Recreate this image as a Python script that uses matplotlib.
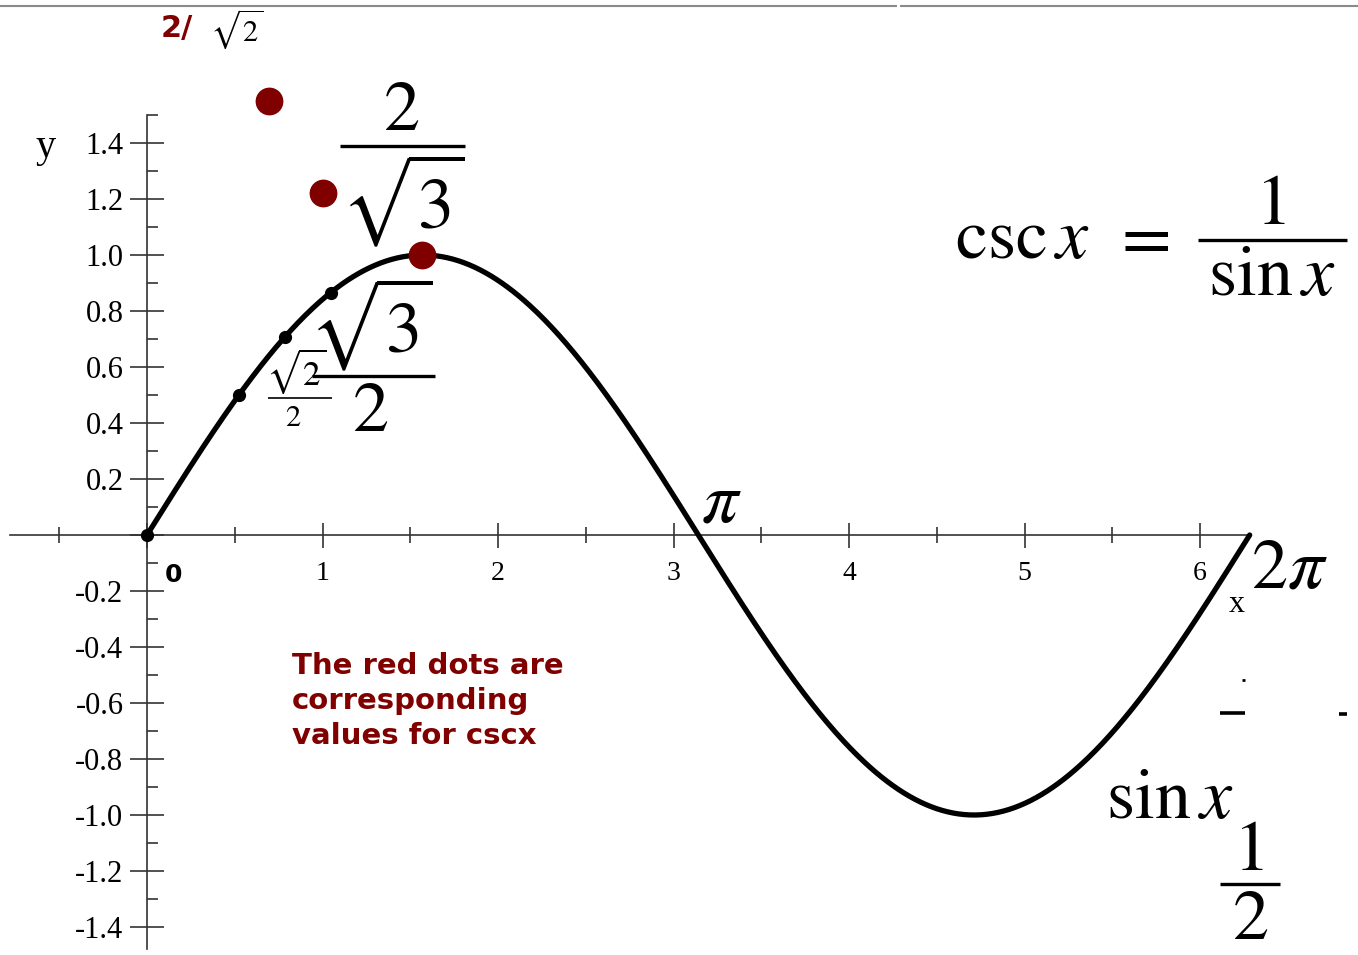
import numpy as np
import matplotlib
matplotlib.use('Agg')
import matplotlib.pyplot as plt
from matplotlib.lines import Line2D

plt.rcParams['font.family'] = ['Liberation Serif', 'DejaVu Serif']
plt.rcParams['mathtext.fontset'] = 'stix'

W, H = 1358, 955
DARK_RED = '#800000'

# ── data ──────────────────────────────────────────────────────────────────────
x_start, x_end = 0.0, 2 * np.pi
key_x   = [0.0, np.pi / 6, np.pi / 4, np.pi / 3]      # black dots on sin x
key_sin = [0.0, 0.5, 0.707, 0.866]
csc_x   = [0.695, 1.003, 1.567]                       # red dots as drawn
csc_y   = [1.55, 1.22, 1.0]

x_major = [0, 1, 2, 3, 4, 5, 6]
x_labels = ['', '1', '2', '3', '4', '5', '6']
x_minor = [-0.5, 0.5, 1.5, 2.5, 3.5, 4.5, 5.5]
y_major = [-1.4, -1.2, -1.0, -0.8, -0.6, -0.4, -0.2, 0.0, 0.2, 0.4, 0.6, 0.8, 1.0, 1.2, 1.4]
y_labels = ['-1.4', '-1.2', '-1.0', '-0.8', '-0.6', '-0.4', '-0.2', '',
            '0.2', '0.4', '0.6', '0.8', '1.0', '1.2', '1.4']
y_minor = [-1.3, -1.1, -0.9, -0.7, -0.5, -0.3, -0.1, 0.1, 0.3, 0.5, 0.7, 0.9, 1.1, 1.3, 1.5]

# ── figure ────────────────────────────────────────────────────────────────────
fig = plt.figure(figsize=(W / 100, H / 100), dpi=100)
fig.patch.set_facecolor('white')
ax = fig.add_axes([0, 0, 1, 1])
ax.set_facecolor('none')

XS, YS = 175.5, 280.0   # pixels per unit
ax.set_xlim(-147 / XS, (W - 147) / XS)
ax.set_ylim((535 - H) / YS, 535 / YS)

for s in ['top', 'right']:
    ax.spines[s].set_visible(False)
for s in ['left', 'bottom']:
    ax.spines[s].set_position(('data', 0))
    ax.spines[s].set_color('#333333')
    ax.spines[s].set_linewidth(1.2)
ax.spines['bottom'].set_bounds(-0.78, 6.29)
ax.spines['left'].set_bounds(-1.48, 1.5)

ax.set_xticks(x_major)
ax.set_xticklabels(x_labels, fontsize=20)
ax.set_xticks(x_minor, minor=True)
ax.set_yticks(y_major)
ax.set_yticklabels(y_labels, fontsize=22)
ax.set_yticks(y_minor, minor=True)
ax.tick_params(axis='x', which='major', direction='inout', length=18, width=1.2,
               color='#333333', pad=10)
ax.tick_params(axis='x', which='minor', direction='inout', length=12, width=1.2,
               color='#333333')
ax.tick_params(axis='y', which='major', direction='inout', length=24, width=1.2,
               color='#333333', pad=5)
ax.tick_params(axis='y', which='minor', direction='in', length=8, width=1.2,
               color='#333333')

# sine curve and points
xc = np.linspace(x_start, x_end, 600)
ax.plot(xc, np.sin(xc), color='black', linewidth=3.8, solid_capstyle='round', zorder=3)
ax.plot(key_x, key_sin, 'o', color='black', markersize=8.5, zorder=4)
ax.plot(csc_x, csc_y, 'o', color=DARK_RED, markersize=19, zorder=5)


# ── annotations (pixel placement) ─────────────────────────────────────────────
def P(x, y):
    return x / W, 1 - y / H


def txt(x, y, s, size, **kw):
    kw.setdefault('ha', 'center')
    kw.setdefault('va', 'center')
    fig.text(*P(x, y), s, fontsize=size, **kw)


def bar(x0, x1, y, lw=2.2, color='black'):
    (a, b), (c, d) = P(x0, y), P(x1, y)
    fig.add_artist(Line2D([a, c], [b, d], transform=fig.transFigure,
                          color=color, linewidth=lw, solid_capstyle='butt'))


BIG = 52

# top rule
bar(0, 897, 6, lw=1.5, color='#8a8a8a')
bar(900, W, 6, lw=1.5, color='#8a8a8a')

# 2/ sqrt2
txt(177, 28, '2/', 22, color=DARK_RED, fontweight='bold', family='DejaVu Sans')
txt(237, 29, r'$\sqrt{2}$', 22)

# 2 / sqrt3
txt(401, 113, r'$2$', BIG)
bar(340, 465, 146, lw=2.4)
txt(403, 200, r'$\sqrt{3}$', BIG)

# sqrt3 / 2
txt(371, 324, r'$\sqrt{3}$', BIG)
bar(312, 435, 376, lw=2.4)
txt(370, 413, r'$2$', BIG)

# sqrt2 / 2 (small)
txt(296, 371, r'$\sqrt{2}$', 25)
bar(268, 332, 398, lw=1.2)
txt(293, 418, r'$2$', 22)

# pi labels
txt(721, 504, r'$\pi$', BIG)
txt(1289, 570, r'$2\pi$', BIG)

# axis letters
txt(1237, 605, 'x', 23)
txt(46, 148, 'y', 29)
txt(173, 575, '0', 18, fontweight='bold', family='DejaVu Sans')

# csc x = 1 / sin x
txt(1023, 240, r'$\mathrm{csc}\,x$', BIG)
txt(1140, 240, r'$=$', BIG)
bar(1198, 1347, 240, lw=2.4)
txt(1270, 206, r'$1$', BIG)
txt(1272, 278, r'$\mathrm{sin}\,x$', BIG)

# stray pieces at lower right
bar(1220, 1245, 713, lw=2.6)
bar(1339, 1347, 714, lw=2.6)
bar(1242, 1245, 680, lw=2.0)
txt(1170, 800, r'$\mathrm{sin}\,x$', BIG)
txt(1248, 852, r'$1$', BIG)
bar(1220, 1280, 884, lw=2.4)
txt(1250, 921, r'$2$', BIG)

# note
fig.text(*P(292, 652), 'The red dots are\ncorresponding\nvalues for cscx',
         fontsize=21, color=DARK_RED, fontweight='bold', family='DejaVu Sans',
         ha='left', va='top', linespacing=1.32)

fig.savefig('out.png', dpi=100, facecolor='white')
